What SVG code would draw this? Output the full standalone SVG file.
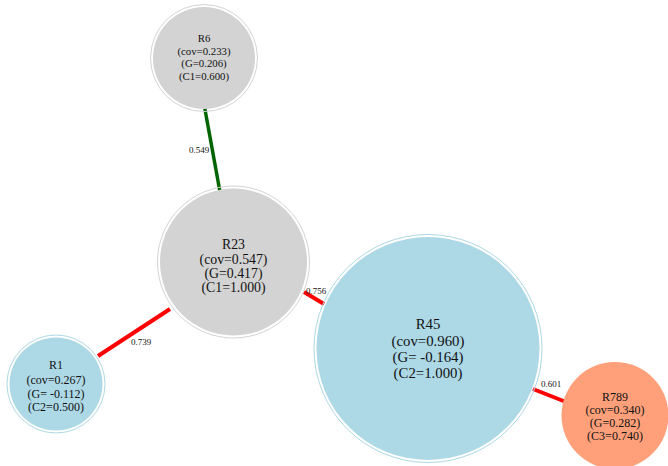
<svg xmlns="http://www.w3.org/2000/svg" width="668" height="466" viewBox="0 0 668 466">
<style>
text{font-family:"Liberation Serif","Times New Roman",serif;text-anchor:middle;fill:#111}
.grey .fill{fill:#d3d3d3}
.grey .ring{fill:none;stroke:#d3d3d3;stroke-width:1}
.blue .fill{fill:#add8e6}
.blue .ring{fill:none;stroke:#add8e6;stroke-width:1}
.salmon .fill{fill:#ffa07a}
.e{stroke-width:4;stroke-linecap:butt}
.red{stroke:#ff0000}
.green{stroke:#006400;stroke-width:3.5}
.el{font-size:9px}
</style>
<rect width="668" height="466" fill="#ffffff"/>
<g id="connectors">
<line class="e green" x1="204" y1="104" x2="220" y2="192"/>
<line class="e red" x1="170" y1="309" x2="98" y2="356"/>
<line class="e red" x1="304" y1="292" x2="324" y2="304"/>
<line class="e red" x1="533" y1="389" x2="566" y2="402"/>
<text class="el" x="199" y="152.5">0.549</text>
<text class="el" x="141" y="345">0.739</text>
<text class="el" x="316" y="294">0.756</text>
<text class="el" x="551" y="387">0.601</text>
</g>
<g id="R6" class="grey">
<circle class="fill" cx="204" cy="58" r="51"/>
<circle class="ring" cx="204" cy="58" r="53.5"/>
<text x="204" y="42" font-size="10.8">R6</text>
<text x="204" y="54.5" font-size="10.8">(cov=0.233)</text>
<text x="204" y="67" font-size="10.8">(G=0.206)</text>
<text x="204" y="79.5" font-size="10.8">(C1=0.600)</text>
</g>
<g id="R23" class="grey">
<circle class="fill" cx="233.5" cy="262" r="73.5"/>
<circle class="ring" cx="233.5" cy="262" r="76"/>
<text x="233.5" y="249" font-size="13.8">R23</text>
<text x="233.5" y="264" font-size="13.8">(cov=0.547)</text>
<text x="233.5" y="278" font-size="13.8">(G=0.417)</text>
<text x="233.5" y="292" font-size="13.8">(C1=1.000)</text>
</g>
<g id="R1" class="blue">
<circle class="fill" cx="56" cy="384" r="46.5"/>
<circle class="ring" cx="56" cy="384" r="49"/>
<text x="56" y="368.5" font-size="12">R1</text>
<text x="56" y="384" font-size="12">(cov=0.267)</text>
<text x="56" y="397.5" font-size="12">(G= -0.112)</text>
<text x="56" y="411" font-size="12">(C2=0.500)</text>
</g>
<g id="R45" class="blue">
<circle class="fill" cx="428" cy="348.5" r="111.5"/>
<circle class="ring" cx="428" cy="348.5" r="114"/>
<text x="428" y="329" font-size="14.8">R45</text>
<text x="428" y="346" font-size="14.8">(cov=0.960)</text>
<text x="428" y="362" font-size="14.8">(G= -0.164)</text>
<text x="428" y="378" font-size="14.8">(C2=1.000)</text>
</g>
<g id="R789" class="salmon">
<circle class="fill" cx="615" cy="415.5" r="53.5"/>
<text x="615" y="401" font-size="12">R789</text>
<text x="615" y="413.5" font-size="12">(cov=0.340)</text>
<text x="615" y="427" font-size="12">(G=0.282)</text>
<text x="615" y="440" font-size="12">(C3=0.740)</text>
</g>
</svg>
